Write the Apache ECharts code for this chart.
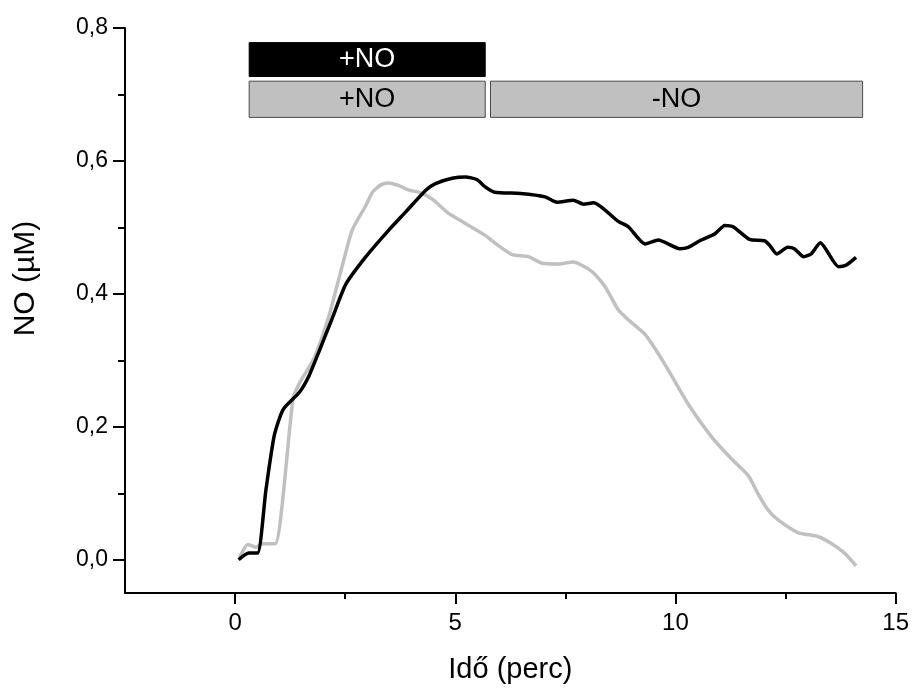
<!DOCTYPE html>
<html>
<head>
<meta charset="utf-8">
<script src="https://cdn.jsdelivr.net/npm/echarts@6/dist/echarts.min.js"></script>
<style>
html,body{margin:0;padding:0;background:#fff;}
#chart{width:912px;height:689px;}
</style>
</head>
<body>
<div id="chart"></div>
<script>
// ---- data ----
const blackTime = [0.08,0.31,0.51,0.70,0.89,1.09,1.46,1.68,1.91,2.21,2.51,2.97,3.49,3.87,4.33,4.55,4.93,5.23,5.49,5.68,5.89,6.48,7.04,7.31,7.68,7.91,8.14,8.70,8.93,9.31,9.61,10.10,10.29,10.55,10.89,11.12,11.31,11.68,12.02,12.14,12.30,12.55,12.70,12.91,13.08,13.29,13.70,13.87,14.10];
const blackNO   = [0.000,0.010,0.010,0.105,0.187,0.226,0.252,0.277,0.314,0.364,0.414,0.456,0.496,0.523,0.556,0.566,0.574,0.576,0.572,0.561,0.553,0.551,0.546,0.538,0.541,0.535,0.537,0.509,0.501,0.475,0.481,0.468,0.470,0.480,0.490,0.503,0.501,0.482,0.480,0.473,0.460,0.470,0.468,0.456,0.460,0.477,0.441,0.443,0.455];

const grayTime = [0.10,0.29,0.47,0.63,0.91,1.32,1.49,1.80,2.14,2.44,2.66,2.97,3.12,3.31,3.49,3.72,3.95,4.17,4.47,4.85,5.23,5.68,5.95,6.29,6.66,6.97,7.34,7.68,8.10,8.40,8.70,8.93,9.31,9.76,10.29,10.82,11.27,11.65,11.87,12.10,12.33,12.78,13.23,13.53,13.84,14.10];
const grayNO   = [0.003,0.023,0.019,0.024,0.024,0.244,0.269,0.304,0.369,0.444,0.496,0.533,0.553,0.564,0.567,0.563,0.556,0.553,0.543,0.521,0.506,0.488,0.474,0.459,0.456,0.446,0.445,0.448,0.434,0.411,0.376,0.361,0.339,0.294,0.234,0.185,0.152,0.127,0.100,0.075,0.060,0.041,0.035,0.025,0.010,-0.009];

const xMajorTicks = [0, 5, 10, 15];
const xMinorTicks = [2.5, 7.5, 12.5];
const yMajorTicks = [0, 0.2, 0.4, 0.6, 0.8];
const yMinorTicks = [0.1, 0.3, 0.5, 0.7];

// treatment bars
const treatmentStart = [0.32, 0.32, 5.80];
const treatmentEnd   = [5.68, 5.68, 14.25];
const treatmentLow   = [0.727, 0.6655, 0.6655];
const treatmentHigh  = [0.778, 0.720, 0.720];
const treatmentLabel = ['+NO', '+NO', '-NO'];
const treatmentDark  = [true, false, false];

// ---- chart ----
const FONT = 'Liberation Sans, Arial, sans-serif';
const fmt = v => v.toFixed(1).replace('.', ',');

const areas = treatmentStart.map((s, i) => [
  {
    name: treatmentLabel[i],
    xAxis: s, yAxis: treatmentHigh[i],
    itemStyle: treatmentDark[i]
      ? { color: '#000', borderColor: '#000', borderWidth: 1, opacity: 1 }
      : { color: '#c0c0c0', borderColor: '#4a4a4a', borderWidth: 1, opacity: 1 },
    label: {
      show: true, position: 'inside', formatter: treatmentLabel[i],
      color: treatmentDark[i] ? '#fff' : '#000',
      fontFamily: FONT, fontSize: 27
    }
  },
  { xAxis: treatmentEnd[i], yAxis: treatmentLow[i] }
]);

const chart = echarts.init(document.getElementById('chart'));
chart.setOption({
  animation: false,
  backgroundColor: '#fff',
  grid: { left: 125, right: 14, top: 28, bottom: 92, containLabel: false },
  xAxis: [
    {
      type: 'value', position: 'bottom', min: -2.5, max: 15,
      name: 'Idő (perc)', nameLocation: 'middle', nameGap: 62,
      nameTextStyle: { fontFamily: FONT, fontSize: 29, color: '#000' },
      axisLine: { show: true, onZero: false, lineStyle: { color: '#000', width: 2 } },
      axisTick: { show: true, customValues: xMajorTicks, length: 11, lineStyle: { color: '#000', width: 2 } },
      axisLabel: { show: true, customValues: xMajorTicks, margin: 18, fontFamily: FONT, fontSize: 24, color: '#000' },
      splitLine: { show: false }
    },
    {
      type: 'value', position: 'bottom', min: -2.5, max: 15,
      axisLine: { show: false, onZero: false },
      axisTick: { show: true, customValues: xMinorTicks, length: 6, lineStyle: { color: '#000', width: 2 } },
      axisLabel: { show: false },
      splitLine: { show: false }
    }
  ],
  yAxis: [
    {
      type: 'value', position: 'left', min: -0.05, max: 0.8,
      name: 'NO (µM)', nameLocation: 'middle', nameGap: 84,
      nameTextStyle: { fontFamily: FONT, fontSize: 30, color: '#000', padding: [0, 0, 0, 64] },
      axisLine: { show: true, onZero: false, lineStyle: { color: '#000', width: 2 } },
      axisTick: { show: true, customValues: yMajorTicks, length: 12, lineStyle: { color: '#000', width: 2 } },
      axisLabel: { show: true, customValues: yMajorTicks, margin: 17, fontFamily: FONT, fontSize: 23, color: '#000', formatter: fmt },
      splitLine: { show: false }
    },
    {
      type: 'value', position: 'left', min: -0.05, max: 0.8,
      axisLine: { show: false, onZero: false },
      axisTick: { show: true, customValues: yMinorTicks, length: 7, lineStyle: { color: '#000', width: 2 } },
      axisLabel: { show: false },
      splitLine: { show: false }
    }
  ],
  series: [
    {
      type: 'line', xAxisIndex: 0, yAxisIndex: 0,
      data: grayTime.map((t, i) => [t, grayNO[i]]),
      showSymbol: false, smooth: 0.2,
      lineStyle: { color: '#c0c0c0', width: 3.5 },
      z: 2
    },
    {
      type: 'line', xAxisIndex: 0, yAxisIndex: 0,
      data: blackTime.map((t, i) => [t, blackNO[i]]),
      showSymbol: false, smooth: 0.2,
      lineStyle: { color: '#000', width: 3.5 },
      markArea: { silent: true, data: areas },
      z: 3
    }
  ]
});
</script>
</body>
</html>
